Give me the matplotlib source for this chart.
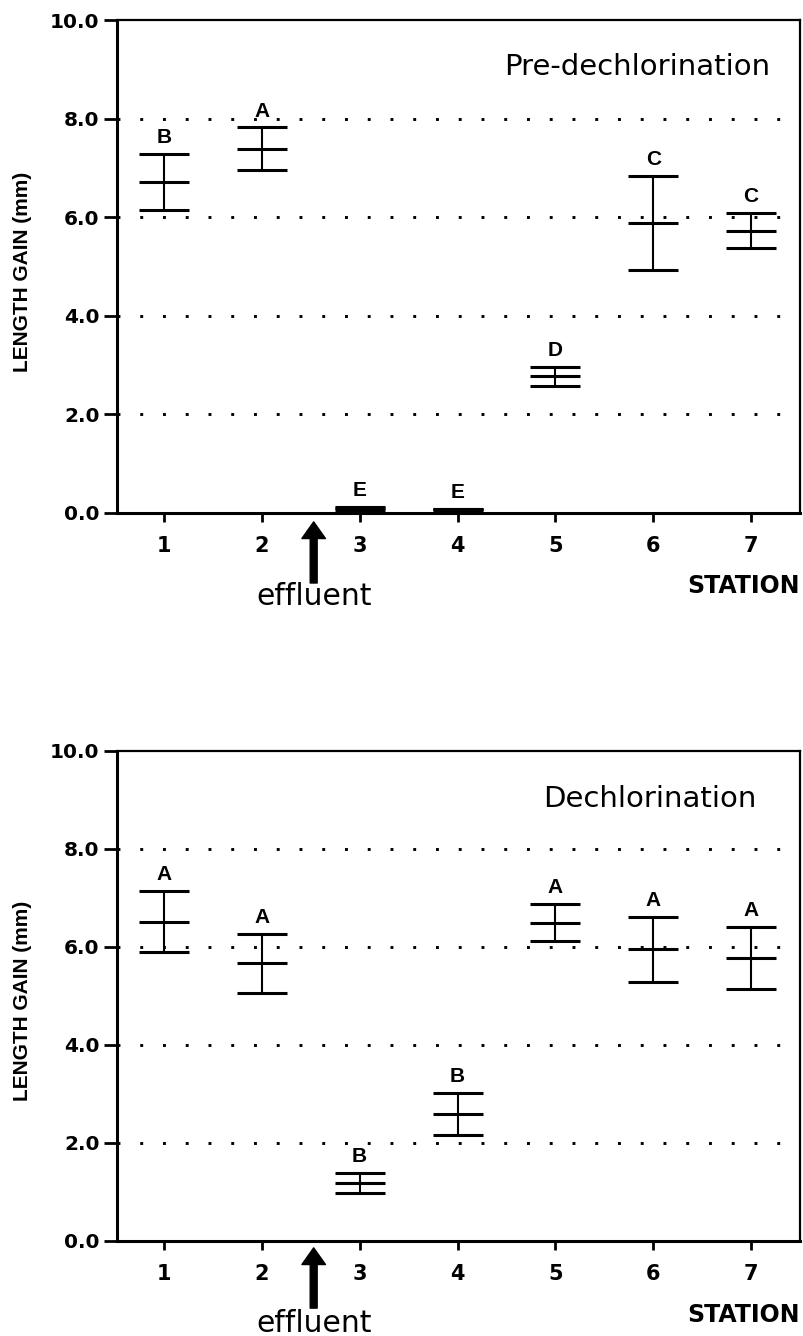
import matplotlib
matplotlib.use("Agg")
import matplotlib.pyplot as plt

# Station numbers along the stream
stations = [1, 2, 3, 4, 5, 6, 7]

# Pre-dechlorination: mean length gain (mm) and error half-width
pre_mean = [6.72, 7.39, 0.10, 0.08, 2.77, 5.88, 5.73]
pre_err = [0.57, 0.43, 0.03, 0.01, 0.20, 0.95, 0.36]
pre_group = ["B", "A", "E", "E", "D", "C", "C"]

# Dechlorination: mean length gain (mm) and error half-width
dechl_mean = [6.52, 5.67, 1.18, 2.59, 6.50, 5.95, 5.78]
dechl_err = [0.63, 0.60, 0.20, 0.43, 0.38, 0.66, 0.63]
dechl_group = ["A", "A", "B", "B", "A", "A", "A"]

y_ticks = [0, 2, 4, 6, 8, 10]
y_tick_labels = ["0.0", "2.0", "4.0", "6.0", "8.0", "10.0"]
effluent_x = 2.53

W, H = 804, 1336
fig = plt.figure(figsize=(W / 100, H / 100), dpi=100)
ax_top = fig.add_axes([117 / W, 1 - 513 / H, 683 / W, 493 / H])
ax_bot = fig.add_axes([117 / W, 1 - 1241 / H, 683 / W, 490 / H])


def draw_panel(ax, means, errs, groups, title, title_x, title_y,
               arrow_tip, arrow_tail, label_y, station_y):
    ax.set_xlim(0.52, 7.5)
    ax.set_ylim(0, 10)

    # dotted reference lines
    for y in y_ticks[1:-1]:
        ax.axhline(y, color="black", lw=2.1, linestyle=(0, (1, 6.8)), zorder=1)

    # error bars with caps, plus the mean bar
    ax.errorbar(stations, means, yerr=errs, fmt="none", ecolor="black",
                elinewidth=1.5, capsize=18, capthick=2.2, zorder=3)
    ax.plot(stations, means, linestyle="none", marker="_", markersize=36,
            mew=2.2, color="black", zorder=3)

    # significance group letters
    for x, m, e, g in zip(stations, means, errs, groups):
        ax.annotate(g, xy=(x, m + e), xytext=(0, 5), textcoords="offset points",
                    ha="center", va="bottom", fontsize=15, fontweight="bold",
                    family="Liberation Sans")

    # axes styling
    for side in ("left", "bottom"):
        ax.spines[side].set_linewidth(2.2)
    for side in ("top", "right"):
        ax.spines[side].set_linewidth(1.6)

    ax.set_yticks(y_ticks)
    ax.set_yticklabels(y_tick_labels)
    ax.set_xticks(stations)
    ax.set_xticklabels([str(s) for s in stations])
    ax.tick_params(axis="y", direction="out", length=9.5, width=2.0, pad=3,
                   labelsize=14.5)
    ax.tick_params(axis="x", direction="out", length=6.5, width=2.0, pad=10,
                   labelsize=15)
    for lbl in ax.get_xticklabels() + ax.get_yticklabels():
        lbl.set_fontweight("bold")

    ax.set_ylabel("LENGTH GAIN (mm)", fontsize=15, fontweight="bold",
                  family="Liberation Sans")
    ax.yaxis.set_label_coords(-0.125, 0.49)

    ax.text(title_x, title_y, title, transform=ax.transAxes, ha="center",
            va="baseline", fontsize=21)

    ax.text(1.0, station_y, "STATION", transform=ax.transAxes, ha="right",
            va="baseline", fontsize=17, fontweight="bold")

    # effluent outfall marker
    trans = ax.get_xaxis_transform()
    ax.annotate("", xy=(effluent_x, arrow_tip), xycoords=trans,
                xytext=(effluent_x, arrow_tail), textcoords=trans,
                arrowprops=dict(facecolor="black", edgecolor="black",
                                width=5, headwidth=17, headlength=12, shrink=0),
                annotation_clip=False)
    ax.text(effluent_x, label_y, "effluent", transform=trans, ha="center",
            va="baseline", fontsize=21.5, clip_on=False)


draw_panel(ax_top, pre_mean, pre_err, pre_group, "Pre-dechlorination",
           0.761, 0.888, -0.018, -0.142, -0.187, -0.162)
draw_panel(ax_bot, dechl_mean, dechl_err, dechl_group, "Dechlorination",
           0.780, 0.886, -0.014, -0.137, -0.186, -0.165)

fig.savefig("out.png", dpi=100)
